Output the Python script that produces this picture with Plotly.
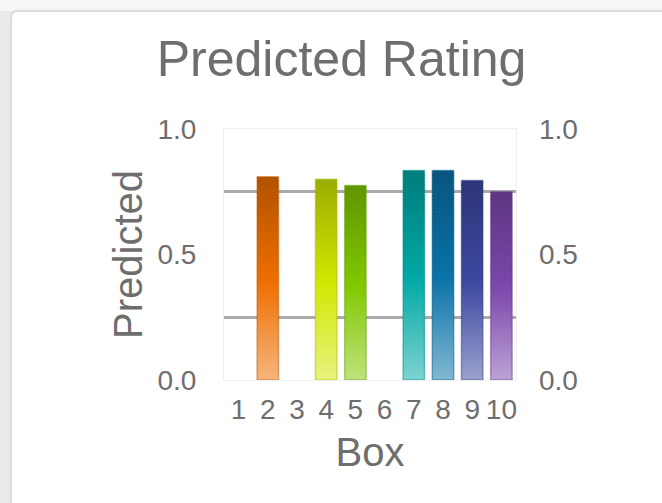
import plotly.graph_objects as go

# ---- data ----
boxes = [2, 4, 5, 7, 8, 9, 10]
predicted = [0.81, 0.80, 0.775, 0.835, 0.835, 0.795, 0.75]
box_colors = ["#ee6e00", "#d0e800", "#80c800", "#00a8a5", "#0a72a8", "#3c48a0", "#7c48ac"]
x_tick_vals = [1, 2, 3, 4, 5, 6, 7, 8, 9, 10]
x_tick_text = ["1", "2", "3", "4", "5", "6", "7", "8", "9", "10"]
y_tick_vals = [0, 0.5, 1.0]
y_tick_text = ["0.0", "0.5", "1.0"]
guide_vals = [0.25, 0.75]

W, H = 662, 503
ML, MR, MT, MB = 224, 146, 129, 123
TEXT = "#6e6e6e"
FONT = "Liberation Sans, Arial, sans-serif"


def hex2rgb(h):
    h = h.lstrip("#")
    return [int(h[i:i + 2], 16) for i in (0, 2, 4)]


def shade(h, f):
    """f in [0,1] from bottom: 0 -> half white, 0.5 -> base, 1 -> 75% base."""
    r = hex2rgb(h)
    if f <= 0.5:
        t = f / 0.5
        light = [c + (255 - c) * 0.5 for c in r]
        out = [light[i] + (r[i] - light[i]) * t for i in range(3)]
    else:
        t = (f - 0.5) / 0.5
        dark = [c * 0.75 for c in r]
        out = [r[i] + (dark[i] - r[i]) * t for i in range(3)]
    return "rgb(%d,%d,%d)" % tuple(round(v) for v in out)


fig = go.Figure()

N = 60
BW = 0.735
for k in range(N):
    f = (k + 0.5) / N
    bases = [max(0.0, v * (k - 0.6) / N) for v in predicted]
    tops = [v * (k + 1) / N for v in predicted]
    fig.add_trace(go.Bar(
        x=boxes, y=[t - b for t, b in zip(tops, bases)], base=bases,
        width=BW,
        marker=dict(color=[shade(c, f) for c in box_colors], line=dict(width=0)),
        showlegend=False, hoverinfo="skip",
    ))

# outline
outline = []
for c in box_colors:
    r = hex2rgb(c)
    outline.append("rgba(%d,%d,%d,0.45)" % tuple(int(v * 0.8) for v in r))
fig.add_trace(go.Bar(
    x=boxes, y=predicted, width=BW,
    marker=dict(color="rgba(0,0,0,0)", line=dict(color=outline, width=1.5)),
    showlegend=False, hovertemplate="Box %{x}: %{y}<extra></extra>",
))

# right axis carrier
fig.add_trace(go.Scatter(x=[None], y=[None], yaxis="y2", showlegend=False, hoverinfo="skip"))


def px2x(px):
    return (px - ML) / (W - ML - MR)


def py2y(py):
    return (H - MB - py) / (H - MT - MB)


x0, y0, r = 11, 11, 7
x1, y1 = 720, 560
path = (f"M {px2x(x0)} {py2y(y1)} L {px2x(x0)} {py2y(y0 + r)} "
        f"Q {px2x(x0)} {py2y(y0)} {px2x(x0 + r)} {py2y(y0)} "
        f"L {px2x(x1)} {py2y(y0)} L {px2x(x1)} {py2y(y1)} Z")

fig.update_layout(
    width=W, height=H,
    margin=dict(l=ML, r=MR, t=MT, b=MB, autoexpand=False),
    paper_bgcolor="#eaeaea",
    plot_bgcolor="white",
    barmode="overlay",
    font=dict(family=FONT, color=TEXT),
    title=dict(text="Predicted Rating", font=dict(size=50, color=TEXT, family=FONT),
               xref="container", yref="container", x=0.516, xanchor="center",
               y=1 - 58 / H, yanchor="middle"),
    shapes=[
        dict(type="rect", xref="paper", yref="paper", layer="below",
             x0=px2x(-5), x1=px2x(700), y0=py2y(11), y1=py2y(-5),
             fillcolor="#f6f6f6", line=dict(width=0)),
        dict(type="path", path=path, xref="paper", yref="paper", layer="below",
             fillcolor="white", line=dict(color="#dcdcdc", width=2)),
    ],
    xaxis=dict(range=[0.5, 10.5], tickmode="array", tickvals=x_tick_vals, ticktext=x_tick_text,
               tickfont=dict(size=28, color=TEXT), ticks="", ticklabelstandoff=4,
               showgrid=False, zeroline=False, showline=True, linecolor="#f0f0f0", mirror=True,
               title=dict(text="Box", font=dict(size=40, color=TEXT), standoff=14),
               fixedrange=True),
    yaxis=dict(range=[0, 1], tickmode="array", tickvals=y_tick_vals, ticktext=y_tick_text,
               tickfont=dict(size=28, color=TEXT), ticks="", ticklabelstandoff=21,
               showgrid=False, zeroline=False, showline=True, linecolor="#f0f0f0", mirror=True,
               minor=dict(tickmode="array", tickvals=guide_vals, showgrid=True,
                          gridcolor="#aaaaaa", gridwidth=2.5, ticks=""),
               title=dict(text="Predicted", font=dict(size=40, color=TEXT), standoff=2),
               fixedrange=True),
    yaxis2=dict(range=[0, 1], overlaying="y", side="right", anchor="x",
                tickmode="array", tickvals=y_tick_vals, ticktext=y_tick_text,
                tickfont=dict(size=28, color=TEXT), ticks="", ticklabelstandoff=22,
                showgrid=False, zeroline=False, showline=False, fixedrange=True),
)

fig.write_html("out.html", config={"displayModeBar": False},
               post_script="document.body.style.margin='0px';")
